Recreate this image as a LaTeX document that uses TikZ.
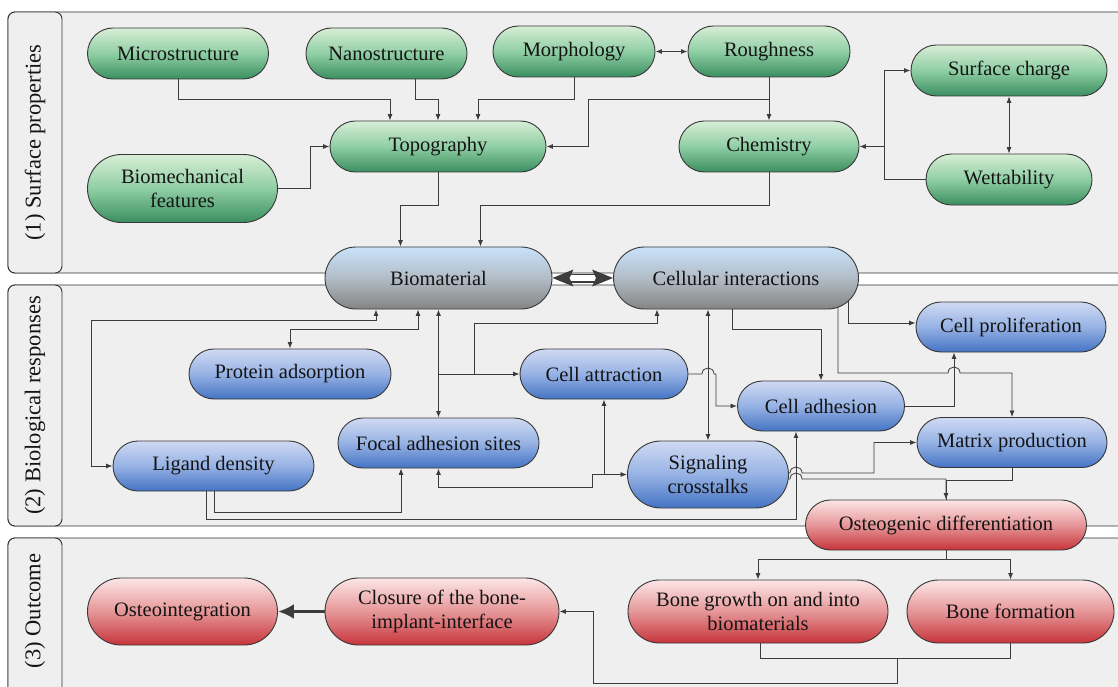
\documentclass[tikz,border=0pt]{standalone}
\usepackage{fontspec}
\setmainfont{Liberation Serif}
\usetikzlibrary{arrows.meta,calc}
\pgfdeclarelayer{bg}
\pgfdeclarelayer{lines}
\pgfsetlayers{bg,lines,main}
\definecolor{pf}{RGB}{239,239,239}
\definecolor{pb}{RGB}{50,50,50}
\definecolor{bd}{RGB}{55,55,55}
\definecolor{lnc}{RGB}{60,60,60}
\definecolor{txt}{RGB}{20,20,20}
\definecolor{g1}{RGB}{216,238,214}
\definecolor{g2}{RGB}{143,206,164}
\definecolor{g3}{RGB}{58,142,96}
\definecolor{b1}{RGB}{208,218,243}
\definecolor{b2}{RGB}{150,178,228}
\definecolor{b3}{RGB}{68,115,196}
\definecolor{y1}{RGB}{200,227,250}
\definecolor{y2}{RGB}{178,188,198}
\definecolor{y3}{RGB}{132,132,132}
\definecolor{r1}{RGB}{252,230,230}
\definecolor{r2}{RGB}{230,150,152}
\definecolor{r3}{RGB}{198,52,58}
\begin{document}
\begin{tikzpicture}[x=1pt,y=-1pt,
  box/.style={draw=bd, line width=0.9pt, inner sep=0pt, align=center, text=txt,
    font=\fontsize{20.5}{24}\selectfont},
  gnode/.style={box, top color=g1, bottom color=g3, middle color=g2},
  bnode/.style={box, top color=b1, bottom color=b3, middle color=b2},
  gynode/.style={box, top color=y1, bottom color=y3, middle color=y2},
  rnode/.style={box, top color=r1, bottom color=r3, middle color=r2},
  mw/.style={minimum width=#1pt},
  h50/.style={minimum height=50pt, rounded corners=25pt},
  h51/.style={minimum height=51pt, rounded corners=25.5pt},
  h62/.style={minimum height=62pt, rounded corners=31pt},
  h63/.style={minimum height=63pt, rounded corners=31.5pt},
  h67/.style={minimum height=67pt, rounded corners=33.5pt},
  h68/.style={minimum height=68pt, rounded corners=34pt},
  conn/.style={draw=lnc, line width=0.8pt},
  arr/.style={conn, -{Latex[length=6.5pt,width=5pt]}},
  arr2/.style={conn, {Latex[length=6.5pt,width=5pt]}-{Latex[length=6.5pt,width=5pt]}},
  panel/.style={draw=pb, line width=0.9pt, fill=pf, rounded corners=7pt},
  lab/.style={rotate=90, text=txt, font=\fontsize{22.5}{26}\selectfont}
]
\useasboundingbox (0,0) rectangle (1118,687);
\clip (0,0) rectangle (1118,687);

\begin{pgfonlayer}{bg}
\fill[white] (0,0) rectangle (1118,687);
\draw[panel] (8,12) rectangle (1140,273);
\draw[panel] (8,12) rectangle (62,273);
\draw[panel] (8,285) rectangle (1140,526);
\draw[panel] (8,285) rectangle (62,526);
\draw[panel] (8,538) rectangle (1140,710);
\draw[panel] (8,538) rectangle (62,710);
\end{pgfonlayer}

\node[lab] (lab1) at (35,142.5) {(1) Surface properties};
\node[lab] (lab2) at (35,405.5) {(2) Biological responses};
\node[lab] (lab3) at (35,611) {(3) Outcome};

% panel 1
\node[gnode, mw=181, h51] (micro) at (178,53.5) {Microstructure};
\node[gnode, mw=161, h51] (nano) at (386.5,53.5) {Nanostructure};
\node[gnode, mw=162, h51] (morph) at (574,51.5) {Morphology};
\node[gnode, mw=162, h51] (rough) at (769,51.5) {Roughness};
\node[gnode, mw=196, h51] (scharge) at (1009,70.5) {Surface charge};
\node[gnode, mw=216, h51] (topo) at (438,146.5) {Topography};
\node[gnode, mw=180, h51] (chem) at (769,146.5) {Chemistry};
\node[gnode, mw=190, h68] (biomech) at (182.5,188.5) {Biomechanical\\features};
\node[gnode, mw=166, h51] (wett) at (1009,179.5) {Wettability};
% centre
\node[gynode, mw=227, h62] (biomat) at (438.5,278) {Biomaterial};
\node[gynode, mw=245, h62] (cellint) at (736,278) {Cellular interactions};
% panel 2
\node[bnode, mw=202, h50] (protein) at (290,374) {Protein adsorption};
\node[bnode, mw=168, h50] (cattr) at (604,374) {Cell attraction};
\node[bnode, mw=190, h50] (cprolif) at (1011,327) {Cell proliferation};
\node[bnode, mw=167, h50] (cadh) at (821,406) {Cell adhesion};
\node[bnode, mw=201, h50] (focal) at (438.5,443) {Focal adhesion sites};
\node[bnode, mw=201, h50] (ligand) at (213.5,466) {Ligand density};
\node[bnode, mw=161, h67] (signal) at (708,474.5) {Signaling\\crosstalks};
\node[bnode, mw=190, h50] (matrix) at (1012,442.5) {Matrix production};
% panel 3
\node[rnode, mw=281, h50] (osteo) at (946,525) {Osteogenic differentiation};
\node[rnode, mw=190, h67] (oint) at (182.5,611.5) {Osteointegration};
\node[rnode, mw=234, h67] (closure) at (442,611.5) {Closure of the bone-\\implant-interface};
\node[rnode, mw=260, h63] (bgrowth) at (758,611.5) {Bone growth on and into\\biomaterials};
\node[rnode, mw=207, h63] (bform) at (1010.5,611.5) {Bone formation};

\begin{pgfonlayer}{lines}
% panel 1
\draw[arr] (micro.south) -- ++(0,20) -| ([xshift=-48pt]topo.north);
\draw[arr] ([xshift=28.5pt]nano.south) -- ++(0,20) -| (topo.north);
\draw[arr] (morph.south) -- ++(0,22) -| ([xshift=40pt]topo.north);
\draw[arr2] (morph.east) -- (rough.west);
\draw[arr] (rough.south) -- (chem.north);
\draw[arr] ([yshift=-22pt]rough.south) -| ([xshift=42pt]topo.east) -- (topo.east);
\draw[arr] (biomech.east) -- ++(32,0) |- (topo.west);
\draw[arr] (topo.south) -- ++(0,33) -| ([xshift=-38pt]biomat.north);
\draw[arr] (chem.south) -- ++(0,33) -| ([xshift=42pt]biomat.north);
\draw[arr] (wett.west) -- ++(-41,0) |- (scharge.west);
\draw[arr] ([xshift=26pt]chem.east) -- (chem.east);
\draw[arr2] (scharge.south) -- (wett.north);
% panel 2
\draw[arr2] ([xshift=-62.5pt]biomat.south) -- ++(0,11) -| ([xshift=-21pt]ligand.west) -- (ligand.west);
\draw[arr2] ([xshift=-20.5pt]biomat.south) -- ++(0,20) -| (protein.north);
\draw[arr2] (biomat.south) -- (focal.north);
\draw[arr] (biomat.south |- cattr.west) -- (cattr.west);
\draw[arr] ([xshift=-45pt]cattr.west) |- ([xshift=-79pt,yshift=-14pt]cellint.south) -- ([xshift=-79pt]cellint.south);
\draw[arr] ([xshift=0.5pt]ligand.south) -- ++(0,21) -| ([xshift=-37.5pt]focal.south);
\draw[arr] ([xshift=-7.5pt]ligand.south) -- ++(0,28) -| ([xshift=-25pt]cadh.south);
\draw[arr2] (focal.south) -- ++(0,19) -| ([xshift=-35pt]signal.west) -- (signal.west);
\draw[arr] (cattr.south |- signal.west) -- (cattr.south);
\draw[arr] (cattr.east) -- (702,374) .. controls (702,366) and (714,366) .. (714,374) -- (716,374) |- (cadh.west);
\draw[arr2] (signal.north) -- (signal.north |- cellint.south);
\draw[arr] ([xshift=-3.5pt]cellint.south) -- ++(0,20) -| (cadh.north);
\draw[arr] ([xshift=112.5pt]cellint.center) |- ([yshift=4pt]cprolif.west);
\draw[arr] ([xshift=102pt]cellint.center) |- (948,373) .. controls (948,365) and (960,365) .. (960,373) -| (matrix.north);
\draw[arr] (cadh.east) -| ([xshift=-57pt]cprolif.south);
\draw[arr] ([yshift=1.5pt]signal.center) -- (790,473) .. controls (790,465) and (802,465) .. (802,473) -- (874,473) |- (matrix.west);
\draw[arr] ([yshift=-4.5pt]signal.center) -- (790,479) .. controls (790,471) and (802,471) .. (802,479) -| (osteo.north);
\draw[conn] (matrix.south) -- ++(0,12) -| (osteo.north);
% panel 3
\draw[arr] (osteo.south) -- ++(0,9) -| (bgrowth.north);
\draw[arr] (osteo.south) -- ++(0,9) -| (bform.north);
\draw[conn] ([xshift=2pt]bgrowth.south) -- ++(0,15) -| (bform.south);
\coordinate (jm) at (897,658);
\draw[arr] (jm) -- ++(0,25) -| ([xshift=34pt]closure.east) -- (closure.east);
\end{pgfonlayer}

% thick arrows
\draw[draw=lnc, line width=3pt, -{Latex[length=16pt,width=15pt]}] (closure.west) -- (oint.east);
\draw[lnc, line width=1.5pt, double=white, double distance=6pt] ([xshift=17pt]biomat.east) -- ([xshift=-17pt]cellint.west);
\fill[lnc] (biomat.east) -- ++(21,-8.5) -- ++(-4,8.5) -- ++(4,8.5) -- cycle;
\fill[lnc] (cellint.west) -- ++(-21,-8.5) -- ++(4,8.5) -- ++(-4,8.5) -- cycle;
\end{tikzpicture}
\end{document}
